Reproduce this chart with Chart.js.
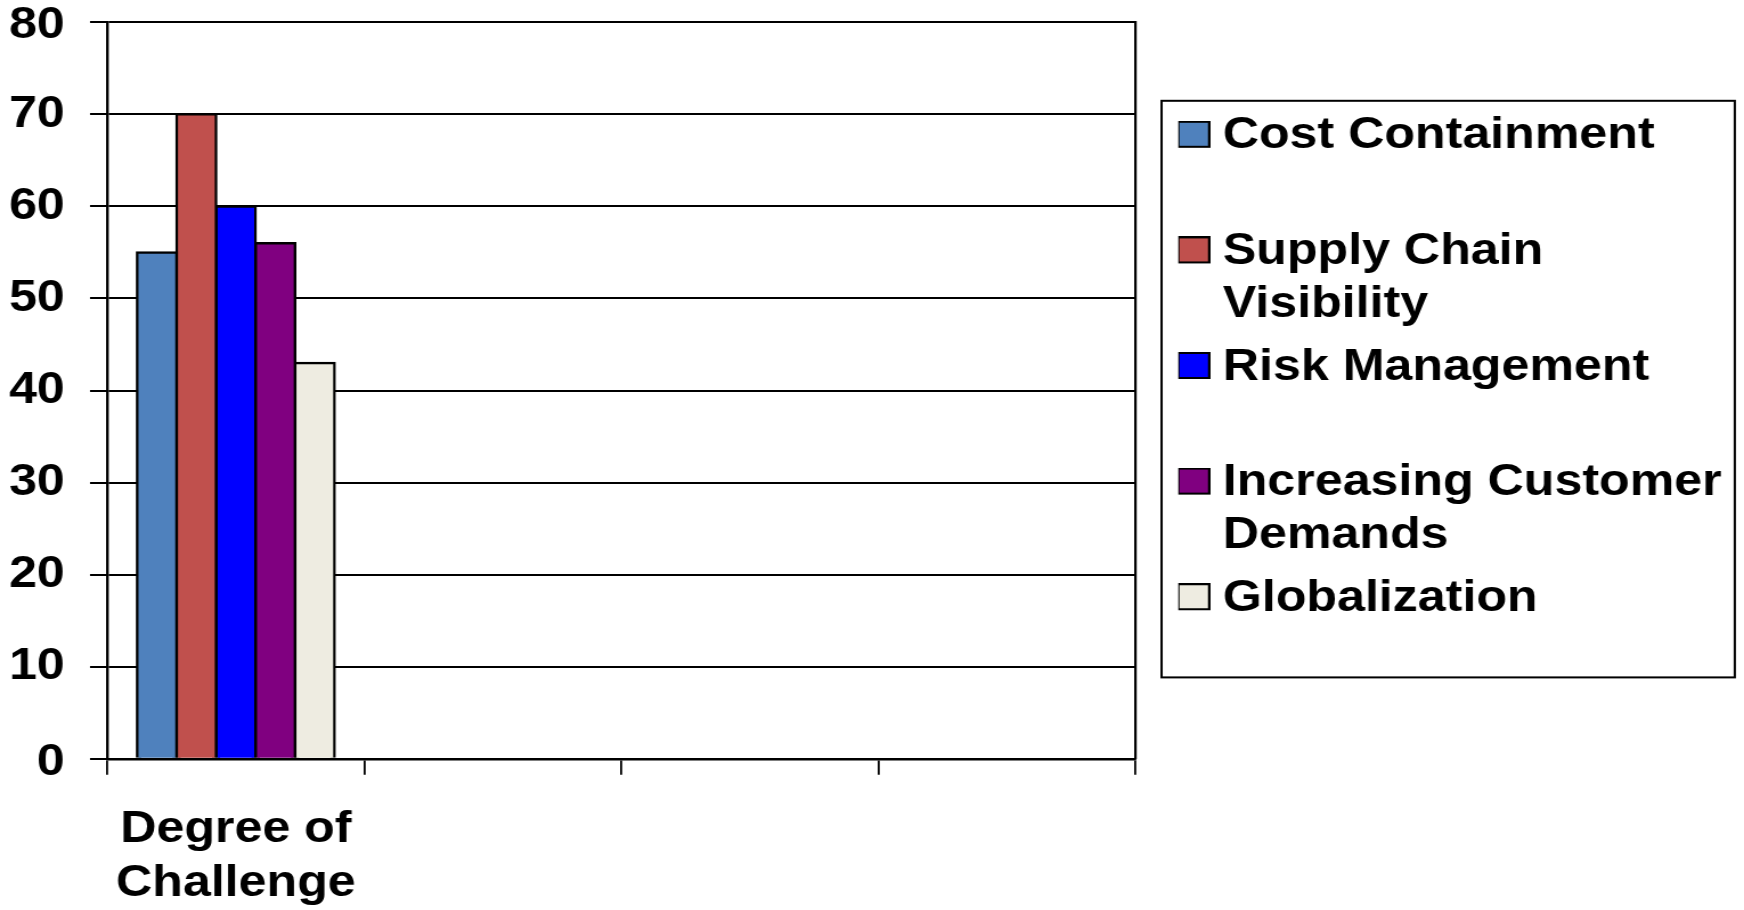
<!DOCTYPE html>
<html>
<head>
<meta charset="utf-8">
<script src="https://cdn.jsdelivr.net/npm/chart.js@4.4.1/dist/chart.umd.min.js"></script>
<style>
  html, body { margin: 0; padding: 0; background: #ffffff; overflow: hidden; }
  #wrap { width: 1744px; height: 910px; position: relative; overflow: hidden; }
  #c { position: absolute; left: 0; top: 0; transform-origin: 0 0; }
</style>
</head>
<body>
<div id="wrap"><canvas id="c"></canvas></div>
<script>
// ---- data ----
const categories = [['Degree of', 'Challenge'], '', '', ''];
const seriesNames = [
  ['Cost Containment', ''],
  ['Supply Chain', 'Visibility'],
  ['Risk Management', ''],
  ['Increasing Customer', 'Demands'],
  ['Globalization', '']
];
const costContainment = [55];
const supplyChainVisibility = [70];
const riskManagement = [60];
const increasingCustomerDemands = [56];
const globalization = [43];
const yMin = 0, yMax = 80, yStep = 10;

// ---- styles ----
const seriesColors = ['#4F81BD', '#C0504D', '#0000FF', '#800080', '#EEECE1'];
const seriesValues = [costContainment, supplyChainVisibility, riskManagement, increasingCustomerDemands, globalization];
const FAMILY = "'Liberation Sans', Arial, Helvetica, sans-serif";

// The original picture is horizontally stretched; draw narrower and stretch the canvas.
const PAGE_W = 1744, PAGE_H = 910, STRETCH = 1.14;
const CANVAS_W = Math.round(PAGE_W / STRETCH);
const canvas = document.getElementById('c');
canvas.width = CANVAS_W; canvas.height = PAGE_H;
canvas.style.width = CANVAS_W + 'px'; canvas.style.height = PAGE_H + 'px';
canvas.style.transform = 'scaleX(' + (PAGE_W / CANVAS_W) + ')';

Chart.defaults.font.family = FAMILY;
Chart.defaults.font.weight = 'bold';
Chart.defaults.font.size = 44;
Chart.defaults.color = '#000';

function swatch(color) {
  const c = document.createElement('canvas');
  c.width = 29; c.height = 31;
  const g = c.getContext('2d');
  g.fillStyle = '#000'; g.fillRect(0, 0, 29, 27);
  g.fillStyle = color; g.fillRect(2, 2, 25, 23);
  return c;
}
const swatches = seriesColors.map(swatch);

const legendFrame = {
  id: 'legendFrame',
  afterDraw(chart) {
    const lg = chart.legend;
    const hb = lg.legendHitBoxes;
    if (!hb || !hb.length) return;
    const ctx = chart.ctx;
    const top = hb[0].top - 13.5;
    const bottom = hb[hb.length - 1].top + 100.7;
    const left = lg.left - 14.7;
    const right = lg.right + 1.5;
    ctx.save();
    ctx.strokeStyle = '#000';
    ctx.lineWidth = 2;
    ctx.strokeRect(left, top, right - left, bottom - top);
    ctx.restore();
  }
};

const datasets = seriesValues.map((vals, i) => ({
  label: seriesNames[i].join(' ').trim(),
  data: vals,
  backgroundColor: seriesColors[i],
  borderColor: '#000',
  borderWidth: 2.4,
  inflateAmount: 1.2,
  borderSkipped: 'start',
  barPercentage: 1.0,
  categoryPercentage: 0.768
}));

new Chart(canvas, {
  type: 'bar',
  data: { labels: categories, datasets },
  plugins: [legendFrame],
  options: {
    responsive: false,
    animation: false,
    devicePixelRatio: 1,
    layout: { padding: { top: 22.3, left: 7.9, right: 9.6, bottom: 0 } },
    plugins: {
      tooltip: { enabled: false },
      legend: {
        display: true,
        position: 'right',
        align: 'start',
        maxWidth: 700,
        title: { display: true, text: '', font: { size: 10, lineHeight: 1 }, padding: { top: 72, bottom: 0 } },
        labels: {
          font: { size: 44, weight: 'bold', lineHeight: 1.2 },
          color: '#000',
          padding: 10,
          usePointStyle: true,
          pointStyleWidth: 7,
          generateLabels(chart) {
            return chart.data.datasets.map((ds, i) => ({
              text: seriesNames[i],
              pointStyle: swatches[i],
              fillStyle: ds.backgroundColor,
              strokeStyle: '#000',
              lineWidth: 0,
              fontColor: '#000',
              hidden: false,
              datasetIndex: i
            }));
          }
        }
      }
    },
    scales: {
      x: {
        offset: true,
        grid: { display: true, offset: true, drawOnChartArea: false, drawTicks: true, tickLength: 16, color: '#000', lineWidth: 1.8 },
        border: { display: true, color: '#000', width: 2.4 },
        ticks: {
          font: { size: 44, weight: 'bold', lineHeight: 1.21 },
          color: '#000', padding: 28.7, maxRotation: 0, minRotation: 0, autoSkip: false
        },
        afterFit(s) { s.paddingLeft = 0; s.paddingRight = 0; s.height -= s.options.ticks.padding; }
      },
      y: {
        min: yMin, max: yMax,
        grid: { display: true, drawOnChartArea: true, drawTicks: true, tickLength: 15.2, color: '#000', lineWidth: 2 },
        border: { display: true, color: '#000', width: 2.4 },
        ticks: {
          stepSize: yStep,
          font: { size: 44, weight: 'bold', lineHeight: 0.18 },
          color: '#000', padding: 22.1,
          // the end labels sit slightly below their lines in the original
          callback: (value, index, ticks) =>
            (index === 0 || index === ticks.length - 1) ? ['', String(value)] : String(value)
        },
        afterFit(s) { s.paddingTop = 0; s.paddingBottom = 0; s.width -= s.options.ticks.padding; }
      },
      y2: {
        position: 'right',
        display: true,
        grid: { display: false, drawTicks: false },
        ticks: { display: false },
        border: { display: true, color: '#000', width: 2.2 },
        afterFit(s) { s.width = 37.6; s.paddingTop = 0; s.paddingBottom = 0; }
      }
    }
  }
});
</script>
</body>
</html>
